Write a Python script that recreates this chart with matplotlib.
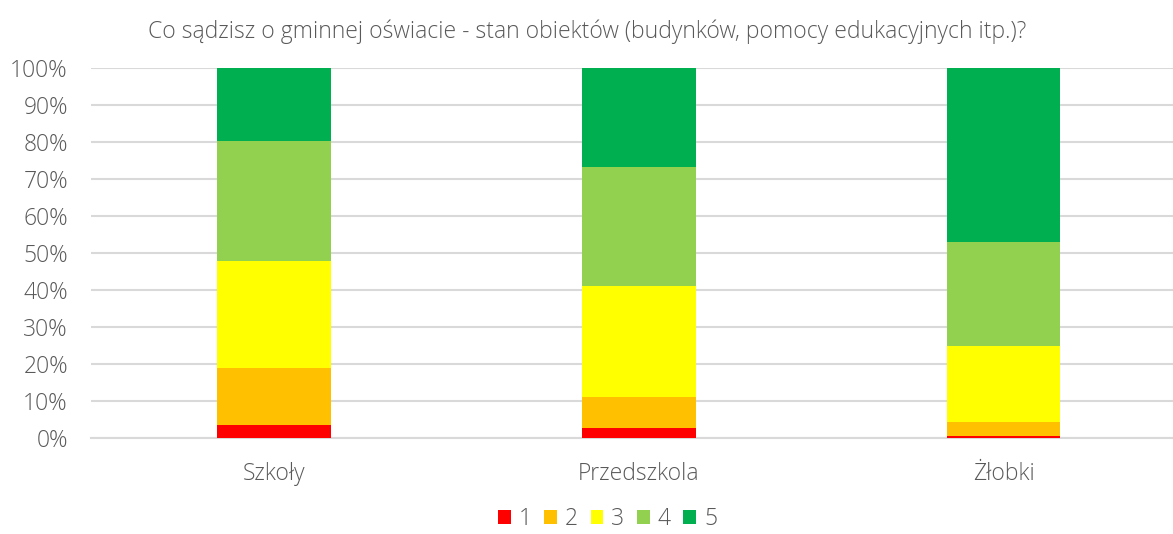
import matplotlib
matplotlib.use("Agg")
import matplotlib.pyplot as plt
from matplotlib.patches import Patch
import numpy as np

plt.rcParams['font.family'] = ['Open Sans', 'DejaVu Sans']
plt.rcParams['font.weight'] = 'light'

categories = ["Szkoły", "Przedszkola", "Żłobki"]
series_names = ["1", "2", "3", "4", "5"]
s1 = [3.6, 2.7, 0.7]
s2 = [15.5, 8.4, 3.7]
s3 = [28.8, 30.1, 20.5]
s4 = [32.5, 32.1, 28.2]
s5 = [19.6, 26.7, 46.9]
colors = ["#FF0000", "#FFC000", "#FFFF00", "#92D050", "#00B050"]
title = "Co sądzisz o gminnej oświacie - stan obiektów (budynków, pomocy edukacyjnych itp.)?"

fig = plt.figure(figsize=(11.73, 5.34), dpi=100)
ax = fig.add_axes([0.078, 0.179, 0.933, 0.693])

x = np.arange(len(categories))
bottom = np.zeros(len(categories))
for name, vals, c in zip(series_names, [s1, s2, s3, s4, s5], colors):
    ax.bar(x, vals, width=0.312, bottom=bottom, color=c, label=name, zorder=3)
    bottom += np.array(vals)

ax.set_xlim(-0.5, 2.5)
ax.set_ylim(0, 100)
ax.set_yticks(np.arange(0, 101, 10))
ax.set_yticklabels([f"{v}%" for v in range(0, 101, 10)])
ax.set_xticks(x)
ax.set_xticklabels(categories)
ax.yaxis.grid(True, color="#D9D9D9", linewidth=1.5, zorder=0)
ax.set_axisbelow(True)
for s in ["top", "right", "left"]:
    ax.spines[s].set_visible(False)
ax.spines["bottom"].set_color("#D9D9D9")
ax.spines["bottom"].set_linewidth(1.5)
ax.tick_params(axis="both", length=0, labelsize=16.5, colors="#595959")
ax.tick_params(axis="x", pad=17)
ax.tick_params(axis="y", pad=17)

fig.text(0.501, 0.94, title, ha="center", va="center", fontsize=16.5, color="#595959")

handles = [Patch(facecolor=c, label=n) for n, c in zip(series_names, colors)]
fig.legend(handles=handles, loc="center", bbox_to_anchor=(0.518, 0.028), ncol=5,
           frameon=False, fontsize=16.5, handlelength=0.55, handleheight=0.55,
           handletextpad=0.35, columnspacing=0.55, labelcolor="#595959",
           borderpad=0.1)

fig.savefig("out.png", dpi=100)
